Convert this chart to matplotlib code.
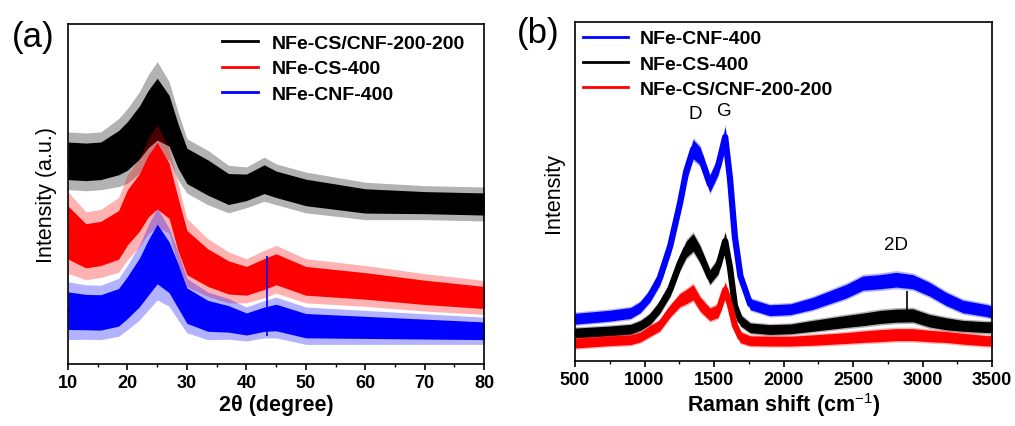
import numpy as np
import matplotlib
matplotlib.use("Agg")
import matplotlib.pyplot as plt
from matplotlib.lines import Line2D

plt.rcParams['font.family'] = ['Liberation Sans', 'DejaVu Sans']
plt.rcParams['mathtext.fontset'] = 'custom'
plt.rcParams['mathtext.rm'] = 'Liberation Sans'
plt.rcParams['mathtext.it'] = 'Liberation Sans'

# XRD (a): centre of noisy trace and half-height of the noise
xrd_x = [10, 13, 15.5, 18.5, 20, 22, 23.5, 25, 27, 28.5, 30, 33.5, 37, 40, 43, 45, 50, 60, 70, 80]
xrd_black = [59.8, 59.5, 59.8, 62.2, 64.2, 68.1, 72.1, 75.0, 71.6, 64.2, 58.3, 54.9, 51.5, 52.0,
             54.4, 52.9, 50.5, 48.0, 47.5, 47.1]
xrd_black_hw = [8.5, 8.5, 8.5, 10, 11, 12, 13, 14, 11.5, 10, 8, 8, 7, 6, 6.5, 6, 6, 5.5, 5, 5]
xrd_red = [38.7, 34.8, 35.5, 38.0, 43.2, 47.5, 52.4, 55.4, 51.0, 41.2, 32.8, 28.4, 25.5, 24.5,
           26.5, 27.9, 24.5, 23.0, 21.1, 19.6]
xrd_red_hw = [12, 10, 10, 11, 12.5, 13, 14, 15, 12.5, 12, 10, 8.5, 7.5, 6.5, 7, 7, 6.5, 6, 5.5, 5]
xrd_blue = [15.7, 15.3, 15.2, 16.7, 19.6, 24.0, 28.4, 32.4, 28.5, 23.0, 17.2, 14.2, 13.3, 11.8,
            13.2, 13.7, 11.3, 10.8, 10.3, 9.8]
xrd_blue_hw = [8.5, 8, 8, 8.5, 9.5, 11, 12.5, 13.5, 11.5, 10, 8, 7, 6, 5, 5.5, 6, 5.5, 5, 4.5, 4]
xrd_spike = (43.5, 8.3, 31.8)  # sharp blue line

# Raman (b)
ram_x = [500, 750, 900, 970, 1040, 1110, 1185, 1255, 1300, 1350, 1400, 1470, 1530, 1580, 1615, 1650,
         1690, 1760, 1900, 2050, 2210, 2450, 2570, 2690, 2810, 2930, 3050, 3170, 3290, 3460, 3500]
ram_blue = [12.5, 13.4, 14.2, 15.9, 19.3, 24.5, 34.0, 46.5, 56.0, 62.5, 60.5, 52.2, 57.6, 66.1, 53.7, 36.6,
            25.0, 16.8, 15.0, 15.3, 17.0, 20.6, 23.0, 23.4, 24.0, 23.4, 21.2, 18.3, 16.1, 14.9, 14.5]
ram_black = [8.3, 8.9, 9.4, 10.5, 12.4, 15.9, 21.2, 29.0, 33.0, 35.0, 31.5, 24.8, 28.0, 35.4, 27.5, 16.3,
             12.0, 9.8, 9.3, 9.5, 10.4, 11.7, 12.3, 13.0, 13.4, 13.5, 11.9, 11.0, 10.4, 10.0, 10.0]
ram_red = [5.3, 6.0, 6.3, 7.1, 8.9, 10.5, 14.8, 18.0, 19.0, 20.3, 16.8, 13.8, 14.8, 21.0, 16.5, 10.5,
           7.0, 6.0, 5.9, 5.9, 6.2, 6.8, 7.2, 7.5, 7.8, 7.8, 7.4, 7.1, 6.6, 6.0, 6.0]
ram_blue_hw = [2.0, 2.0, 2.0, 2.0, 2.2, 2.5, 2.8, 3.0, 3.2, 3.5, 3.2, 3.0, 3.2, 3.8, 3.5, 3.0,
               2.5, 2.0, 2.0, 2.0, 2.2, 2.5, 2.6, 2.6, 2.7, 2.6, 2.5, 2.4, 2.3, 2.2, 2.2]
ram_black_hw = [1.8, 1.8, 1.8, 1.8, 2.0, 2.2, 2.4, 2.6, 3.0, 3.2, 3.0, 2.6, 2.8, 3.2, 3.2, 2.5,
                2.0, 1.8, 1.8, 1.8, 2.0, 2.2, 2.3, 2.4, 2.4, 2.4, 2.3, 2.2, 2.0, 2.0, 2.0]
ram_red_hw = [1.8, 1.8, 1.8, 1.8, 2.0, 2.0, 2.2, 2.4, 2.6, 2.8, 2.6, 2.3, 2.4, 2.8, 2.8, 2.2,
              2.0, 1.8, 1.8, 1.8, 1.9, 2.0, 2.1, 2.2, 2.2, 2.2, 2.1, 2.0, 2.0, 1.9, 1.9]
ram_spike = (2884, 13.0, 20.7)  # sharp black line

xrd_labels = ["NFe-CS/CNF-200-200", "NFe-CS-400", "NFe-CNF-400"]
ram_labels = ["NFe-CNF-400", "NFe-CS-400", "NFe-CS/CNF-200-200"]
BLACK, RED, BLUE = "#000000", "#ff0000", "#0000ff"


def noisy_band(ax, x, y, hw, color, inner=0.65, lw=2.0):
    y = np.asarray(y, float)
    hw = np.asarray(hw, float)
    ax.fill_between(x, y - hw, y + hw, color=color, alpha=0.3, lw=0)
    ax.fill_between(x, y - inner * hw, y + inner * hw, color=color, lw=0)
    ax.plot(x, y, color=color, lw=lw, solid_joinstyle="round")


def style_axes(ax):
    for sp in ax.spines.values():
        sp.set_linewidth(1.2)
    ax.set_yticks([])
    ax.tick_params(axis="x", which="major", direction="out", length=4, width=1.2,
                   labelsize=13, pad=3)
    ax.tick_params(axis="x", which="minor", direction="out", length=2.5, width=1.0)
    for t in ax.get_xticklabels():
        t.set_fontweight("bold")


fig = plt.figure(figsize=(10.15, 4.27), dpi=100)
ax1 = fig.add_axes([0.067, 0.145, 0.410, 0.796])
ax2 = fig.add_axes([0.5665, 0.152, 0.411, 0.794])

# ---- panel (a) ----
noisy_band(ax1, xrd_x, xrd_black, xrd_black_hw, BLACK)
noisy_band(ax1, xrd_x, xrd_red, xrd_red_hw, RED)
noisy_band(ax1, xrd_x, xrd_blue, xrd_blue_hw, BLUE)
ax1.vlines(xrd_spike[0], xrd_spike[1], xrd_spike[2], color=BLUE, lw=1.2)
ax1.set_xlim(10, 80)
ax1.set_ylim(0, 100)
ax1.set_xticks(np.arange(10, 81, 10))
ax1.set_xticks(np.arange(15, 80, 10), minor=True)
style_axes(ax1)
ax1.set_xlabel("2θ (degree)", fontsize=15.5, fontweight="bold", labelpad=2)
ax1.set_ylabel("Intensity (a.u.)", fontsize=15.5, labelpad=8)
handles = [Line2D([], [], color=c, lw=2) for c in (BLACK, RED, BLUE)]
ax1.legend(handles, xrd_labels, loc="upper left", bbox_to_anchor=(0.37, 0.97), frameon=False,
           prop={"size": 14, "weight": "bold"}, handlelength=1.85, handletextpad=0.7,
           labelspacing=0.4, borderpad=0, borderaxespad=0)
fig.text(0.012, 0.89, "(a)", fontsize=25)

# ---- panel (b) ----
noisy_band(ax2, ram_x, ram_blue, ram_blue_hw, BLUE, inner=0.8, lw=4.5)
noisy_band(ax2, ram_x, ram_black, ram_black_hw, BLACK, inner=0.8, lw=4.5)
noisy_band(ax2, ram_x, ram_red, ram_red_hw, RED, inner=0.8, lw=4.5)
ax2.vlines(ram_spike[0], ram_spike[1], ram_spike[2], color=BLACK, lw=1.2)
ax2.set_xlim(500, 3500)
ax2.set_ylim(0, 100)
ax2.set_xticks(np.arange(500, 3501, 500))
ax2.set_xticks(np.arange(750, 3500, 500), minor=True)
style_axes(ax2)
ax2.set_xlabel(r"Raman shift (cm$^{-1}$)", fontsize=15.5, fontweight="bold", labelpad=2)
ax2.set_ylabel("Intensity", fontsize=15.5, labelpad=8)
handles = [Line2D([], [], color=c, lw=2) for c in (BLUE, BLACK, RED)]
ax2.legend(handles, ram_labels, loc="upper left", bbox_to_anchor=(0.02, 0.977), frameon=False,
           prop={"size": 14, "weight": "bold"}, handlelength=2.3, handletextpad=0.6,
           labelspacing=0.4, borderpad=0, borderaxespad=0)
ax2.text(1363, 72.9, "D", fontsize=13.5, ha="center", va="center")
ax2.text(1572, 74.0, "G", fontsize=13.5, ha="center", va="center")
ax2.text(2807, 34.3, "2D", fontsize=13.5, ha="center", va="center")
fig.text(0.509, 0.9, "(b)", fontsize=25)

fig.savefig("out.png", dpi=100)
